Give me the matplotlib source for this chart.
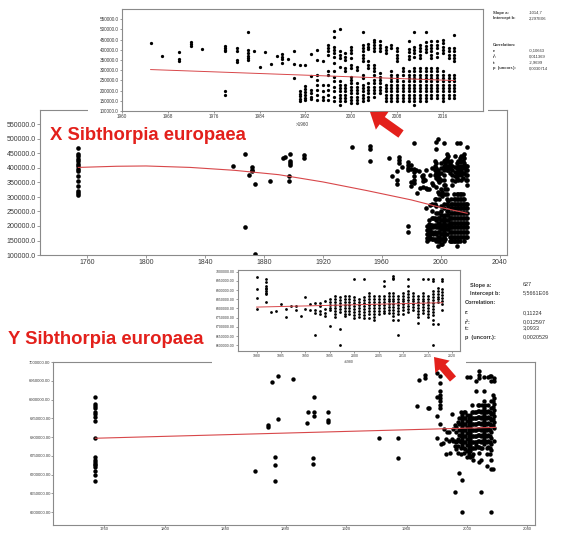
import numpy as np
import matplotlib
matplotlib.use('Agg')
import matplotlib.pyplot as plt
from matplotlib.patches import Rectangle, FancyArrow
from matplotlib.ticker import FuncFormatter

plt.rcParams['font.family'] = ['Liberation Sans', 'DejaVu Sans']

# ---------------- DATA ----------------
# X coordinate (values in thousands), records after 1960 (shown in the top inset)
x_recent = {
    1965: [434], 1967: [372], 1970: [390, 357, 344], 1972: [437, 426, 418],
    1974: [404], 1978: [420, 409, 399, 394, 200, 178], 1980: [409, 396, 352, 339],
    1982: [486, 398, 385, 372, 360, 349], 1983: [393], 1984: [315], 1985: [390],
    1986: [332], 1987: [372], 1988: [377, 365, 355, 336], 1989: [357],
    1990: [393, 331, 262], 1991: [327, 199, 185, 172, 160, 148],
    1992: [326, 222, 207, 193, 180, 166, 155],
    1993: [377, 272, 204, 188, 171, 158],
    1994: [400, 348, 277, 253, 228, 204, 179, 155],
    1995: [343, 228, 196, 171, 155],
    1996: [425, 408, 392, 375, 294, 277, 228, 204, 179, 155],
    1997: [490, 465, 416, 400, 384, 367, 335, 294, 269, 245, 220, 196, 171, 147],
    1998: [501, 392, 375, 359, 318, 245, 228, 212, 196, 179, 163, 147, 130],
    1999: [384, 367, 351, 310, 294, 228, 212, 196, 179, 163, 147],
    2000: [416, 400, 384, 359, 326, 310, 269, 253, 237, 220, 204, 188, 171, 155, 139],
    2001: [318, 302, 237, 220, 204, 188, 171, 155, 139],
    2002: [485, 425, 408, 392, 375, 359, 343, 277, 261, 228, 212, 196, 179, 163, 147],
    2003: [428, 416, 403, 343, 326, 310, 237, 220, 204, 188, 171, 155],
    2004: [449, 436, 423, 408, 392, 326, 310, 294, 277, 253, 237, 220, 204, 188, 171],
    2005: [441, 425, 408, 392, 286, 269, 253, 237, 220, 204, 188],
    2006: [416, 400, 384, 228, 212, 196, 179, 163, 147],
    2007: [425, 408, 294, 277, 261, 245, 228, 212, 196, 179, 163, 147],
    2008: [408, 392, 375, 359, 343, 277, 261, 245, 228, 212, 196, 179, 163, 147],
    2009: [310, 294, 277, 245, 228, 212, 196, 179, 163, 147],
    2010: [441, 403, 387, 371, 354, 294, 277, 261, 245, 228, 212, 196, 179, 163, 147],
    2011: [485, 416, 400, 384, 367, 310, 294, 277, 261, 245, 228, 212, 196, 179, 163, 147, 130],
    2012: [425, 408, 392, 375, 359, 310, 294, 277, 261, 245, 228, 212, 196, 179, 163, 147],
    2013: [485, 436, 420, 403, 387, 310, 294, 277, 261, 245, 228, 212, 196, 179, 163, 147],
    2014: [441, 425, 408, 392, 375, 359, 310, 294, 277, 261, 245, 228, 212, 196, 179, 163],
    2015: [441, 425, 408, 384, 367, 310, 294, 277, 261, 245, 228, 212, 196, 179, 163],
    2016: [449, 433, 416, 400, 384, 294, 277, 261, 245, 228, 212, 196, 179, 163, 147],
    2017: [408, 392, 375, 359, 277, 261, 245, 228, 212, 196, 179, 163],
    2018: [474, 408, 392, 375, 359, 343, 277, 261, 245, 228, 212, 196, 179, 163],
}
# X coordinate, historic records before 1960 (thousands)
x_old_years = [1754] * 15 + [1859, 1867, 1867, 1870, 1872, 1872, 1872, 1874, 1874, 1884,
                             1893, 1894, 1897, 1897, 1898, 1898, 1898, 1898, 1907, 1907,
                             1940, 1952, 1952, 1952]
x_old_vals = [469, 449, 440, 432, 423, 414, 406, 398, 389, 371, 356, 337, 319, 314, 308,
              408, 449, 197, 377, 402, 394, 389, 345, 104, 354,
              435, 438, 371, 354, 449, 425, 417, 412, 444, 435,
              474, 475, 467, 423]
# fitted curve of the main X panel (thousands)
x_fit_years = [1754, 1780, 1800, 1830, 1860, 1890, 1920, 1950, 1980, 2000, 2018]
x_fit_vals = [402, 406, 407, 402, 392, 377, 352, 322, 290, 264, 244]

# Y coordinate (values in thousands), records after 1980 (shown in the lower inset)
y_recent = {
    1980: [6971, 6906, 6857, 6797],
    1982: [6962, 6944, 6922, 6913, 6904, 6895, 6886, 6877, 6835],
    1983: [6781], 1984: [6784], 1985: [6822], 1986: [6795, 6754], 1987: [6813],
    1988: [6813, 6790], 1989: [6759], 1990: [6862, 6795], 1991: [6822, 6790],
    1992: [6831, 6790, 6777, 6654], 1993: [6828, 6813, 6786, 6768],
    1994: [6840, 6795, 6777, 6759], 1995: [6850, 6835, 6820, 6805, 6790, 6705],
    1996: [6868, 6852, 6836, 6820, 6804, 6788, 6772, 6756],
    1997: [6860, 6844, 6828, 6812, 6796, 6780, 6687, 6600],
    1998: [6868, 6852, 6836, 6820, 6804, 6788, 6772, 6758],
    1999: [6868, 6852, 6836, 6820, 6804, 6788, 6768],
    2000: [6959, 6860, 6844, 6828, 6812, 6796, 6780, 6764, 6746],
    2001: [6850, 6834, 6818, 6802, 6786, 6770, 6755],
    2002: [6959, 6860, 6844, 6828, 6812, 6796, 6780, 6764, 6746],
    2003: [6886, 6868, 6852, 6836, 6820, 6804, 6788, 6772, 6750],
    2004: [6868, 6852, 6836, 6820, 6804, 6788, 6772, 6756, 6740],
    2005: [6868, 6852, 6836, 6820, 6804, 6788, 6772],
    2006: [6950, 6922, 6868, 6852, 6836, 6820, 6804, 6788, 6778],
    2007: [6886, 6870, 6854, 6838, 6822, 6806, 6790, 6774],
    2008: [6975, 6966, 6958, 6886, 6870, 6854, 6838, 6822, 6806, 6790, 6774, 6758, 6735],
    2009: [6868, 6852, 6836, 6820, 6804, 6788, 6772, 6740, 6654],
    2010: [6886, 6870, 6854, 6838, 6822, 6806, 6790, 6770],
    2011: [6959, 6922, 6895, 6878, 6862, 6846, 6830, 6814, 6798, 6782],
    2012: [6886, 6870, 6854, 6838, 6822, 6806, 6790],
    2013: [6868, 6852, 6836, 6820, 6804, 6788, 6772, 6756, 6722],
    2014: [6959, 6886, 6870, 6854, 6838, 6822, 6806, 6790, 6774],
    2015: [6962, 6868, 6852, 6836, 6820, 6804, 6788, 6772, 6756],
    2016: [6962, 6950, 6895, 6878, 6862, 6846, 6830, 6814, 6798, 6782, 6766, 6740, 6715, 6600],
    2017: [6913, 6897, 6881, 6865, 6849, 6833, 6715],
    2018: [6958, 6950, 6904, 6888, 6872, 6856, 6840, 6824, 6790],
}
y_old_years = [1754] * 18 + [1860, 1868, 1868, 1871, 1873, 1873, 1873, 1875, 1875, 1885,
                             1899, 1895, 1899, 1899, 1894, 1898, 1898, 1908, 1908, 1908,
                             1942, 1954, 1954, 1967, 1968, 1972, 1972, 1974, 1975]
y_old_vals = [6906, 6887, 6882, 6878, 6868, 6862, 6854, 6844, 6797, 6747, 6740, 6733, 6729,
              6725, 6720, 6710, 6698, 6683,
              6710, 6832, 6826, 6947, 6747, 6725, 6683, 6963, 6847, 6955,
              6906, 6867, 6867, 6856, 6837, 6745, 6729, 6867, 6846, 6839,
              6797, 6797, 6745, 6882, 6953, 6966, 6957, 6878, 6878]
y_fit_years = [1754, 2019]
y_fit_vals = [6797, 6826]

stat_labels = ["Slope a:", "Intercept b:", "Correlation:", "r:", "r\u00b2:", "t:", "p  (uncorr.):"]
x_stat_values = ["-1014,7", "2,297E06", "", "-0,10663", "0,011369", "-2,9699", "0,0030714"]
y_stat_values = ["627", "5,5661E06", "", "0,11224", "0,012597", "3,0933", "0,0020529"]
x_slope, x_intercept = -1014.7, 2.297e6
y_slope, y_intercept = 627.0, 5.5661e6

title_x = "X Sibthorpia europaea"
title_y = "Y Sibthorpia europaea"
inset_x_label = ">1960"
inset_y_label = ">1980"

# ---------------- helpers ----------------
def flatten(d):
    yrs, vals = [], []
    for k, v in d.items():
        yrs += [k] * len(v)
        vals += v
    return np.array(yrs, float), np.array(vals, float) * 1000

xr_years, xr_vals = flatten(x_recent)
yr_years, yr_vals = flatten(y_recent)
xall_years = np.concatenate([np.array(x_old_years, float), xr_years])
xall_vals = np.concatenate([np.array(x_old_vals, float) * 1000, xr_vals])
yall_years = np.concatenate([np.array(y_old_years, float), yr_years])
yall_vals = np.concatenate([np.array(y_old_vals, float) * 1000, yr_vals])

W, H = 567, 533
fig = plt.figure(figsize=(W / 100, H / 100), dpi=100)

def frac(left, top, right, bottom):
    return [left / W, 1 - bottom / H, (right - left) / W, (bottom - top) / H]

RED = '#e3201b'
LINE = '#d8474a'
SP = '#8a8a8a'

def style(ax, fs, fmt, tl=2.0, pad=1):
    for s in ax.spines.values():
        s.set_color(SP)
        s.set_linewidth(0.8)
    ax.tick_params(labelsize=fs, length=tl, width=0.6, color=SP,
                   labelcolor='#3a3a3a', pad=pad)
    ax.yaxis.set_major_formatter(FuncFormatter(lambda v, p: fmt.format(v)))

# ---- main X ----
axX = fig.add_axes(frac(40, 110, 507, 255), zorder=0)
axX.scatter(xall_years, xall_vals, s=11, c='black', linewidths=0)
axX.plot(x_fit_years, np.array(x_fit_vals) * 1000, color=LINE, lw=0.8)
axX.set_xlim(1728, 2045)
axX.set_ylim(100000, 600000)
axX.set_xticks(np.arange(1760, 2041, 40))
axX.set_yticks(np.arange(100000, 550001, 50000))
style(axX, 5, '{:.1f}')

# ---- main Y ----
axY = fig.add_axes(frac(53, 362, 535, 525), zorder=0)
axY.scatter(yall_years, yall_vals, s=10, c='black', linewidths=0)
axY.plot(y_fit_years, np.array(y_fit_vals) * 1000, color=LINE, lw=0.8)
axY.set_xlim(1726, 2045)
axY.set_ylim(6566000, 7000000)
axY.set_xticks(np.arange(1760, 2041, 40))
axY.set_yticks(np.arange(6600000, 7000001, 50000))
style(axY, 3.0, '{:.2f}', tl=1.2, pad=0.5)

# ---- white covers of pasted insets ----
fig.add_artist(Rectangle((88 / W, 1 - 124 / H), 400 / W, 124 / H,
                         transform=fig.transFigure, facecolor='white',
                         edgecolor='none', zorder=1))
fig.add_artist(Rectangle((212 / W, 1 - 365 / H), 254 / W, 99 / H,
                         transform=fig.transFigure, facecolor='white',
                         edgecolor='none', zorder=1))

# ---- inset X ----
axXi = fig.add_axes(frac(122, 9, 483, 111), zorder=2)
axXi.scatter(xr_years, xr_vals, s=5.5, c='black', linewidths=0)
t0, t1 = 1965, 2018
axXi.plot([t0, t1], [x_slope * t0 + x_intercept, x_slope * t1 + x_intercept],
          color=LINE, lw=0.7)
axXi.set_xlim(1960, 2023)
axXi.set_ylim(100000, 600000)
axXi.set_xticks(np.arange(1960, 2017, 8))
axXi.set_yticks(np.arange(100000, 550001, 50000))
style(axXi, 3.3, '{:.1f}', tl=1.5)
axXi.set_xlabel(inset_x_label, fontsize=3.3, color='#3a3a3a', labelpad=2)

# ---- inset Y ----
axYi = fig.add_axes(frac(238, 270, 460, 351), zorder=2)
axYi.scatter(yr_years, yr_vals, s=4, c='black', linewidths=0)
t0, t1 = 1980, 2018
axYi.plot([t0, t1], [y_slope * t0 + y_intercept, y_slope * t1 + y_intercept],
          color=LINE, lw=0.7)
axYi.set_xlim(1976.2, 2021.6)
axYi.set_ylim(6569000, 7009000)
axYi.set_xticks(np.arange(1980, 2021, 5))
axYi.set_yticks(np.arange(6600000, 7000001, 50000))
style(axYi, 2.5, '{:.2f}', tl=1.2)
axYi.set_xlabel(inset_y_label, fontsize=2.5, color='#3a3a3a', labelpad=1.5)

# ---- overlay: titles, stats, arrows (pixel coords) ----
ov = fig.add_axes([0, 0, 1, 1], zorder=5)
ov.set_xlim(0, W)
ov.set_ylim(H, 0)
ov.axis('off')
ov.patch.set_alpha(0)

ov.text(50, 135, title_x, color=RED, fontsize=13.3, fontweight='bold',
        ha='left', va='center')
ov.text(8, 340, title_y, color=RED, fontsize=13.3, fontweight='bold',
        ha='left', va='center')

x_stat_y = [13, 18.5, 45, 51, 56.5, 63, 68.5]
for lab, val, yy in zip(stat_labels, x_stat_values, x_stat_y):
    ov.text(493, yy, lab, fontsize=3.0, fontweight='bold', color='#333333',
            ha='left', va='center')
    ov.text(529, yy, val, fontsize=3.0, color='#333333', ha='left', va='center')

y_stat_y = [285, 293, 302, 313, 322, 328, 337]
y_stat_x = [470, 470, 465, 465, 465, 465, 465]
for lab, val, yy, xx in zip(stat_labels, y_stat_values, y_stat_y, y_stat_x):
    ov.text(xx, yy, lab, fontsize=4, fontweight='bold', color='#333333',
            ha='left', va='center')
    ov.text(523, yy, val, fontsize=4, color='#333333', ha='left', va='center')

ov.add_patch(FancyArrow(401, 134, -31, -22, width=9, head_width=22,
                        head_length=15, length_includes_head=True,
                        color=RED, linewidth=0))
ov.add_patch(FancyArrow(453, 379, -19, -22, width=8, head_width=19,
                        head_length=13, length_includes_head=True,
                        color=RED, linewidth=0))

fig.savefig('out.png', dpi=100)
